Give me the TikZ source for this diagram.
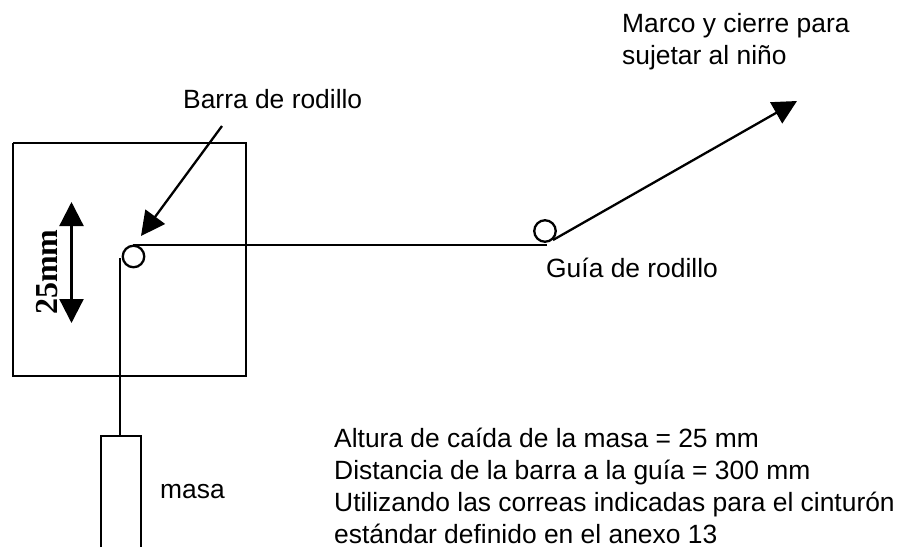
\documentclass[tikz,border=0pt]{standalone}
\usepackage{fontspec}
\setmainfont{Liberation Sans}
\newfontfamily\dimfont{Liberation Serif}
\usetikzlibrary{arrows.meta}
\tikzset{
	rollernode/.style={draw,circle,line width=2.3pt,minimum size=21.5pt,inner sep=0pt},
	strapline/.style={line width=2.3pt},
	bigtip/.tip={Triangle[length=24pt,width=24pt]},
	bigarrow/.style={line width=2.3pt,-bigtip},
	labeltext/.style={inner sep=0pt,font=\fontsize{26.4}{32}\selectfont,align=left}
}
\begin{document}
\begin{tikzpicture}[x=1pt,y=-1pt]
		\useasboundingbox (0,0) rectangle (897,547);

		\draw[strapline] (13,143) -- (246,143) -- (246,376) -- (13,376) -- (13,143);
		\draw[strapline] (101,547) -- (101,436) -- (141,436) -- (141,547);

		\node[rollernode] (barroller) at (133.5,256.5) {};
		\node[rollernode] (guideroller) at (545,231) {};

		\coordinate (bartop) at (133,245);
		\coordinate (barleft) at (120,258);
		\coordinate (guideend) at (547,245);
		\coordinate (guidestart) at (553,240);
		\coordinate (frametip) at (797,101);
		\coordinate (masstop) at (120,436);
		\coordinate (labelend) at (222,126);
		\coordinate (bartip) at (141,236);
		\coordinate (dimtop) at (71.5,202);
		\coordinate (dimbottom) at (71.5,323);

		\draw[strapline] (bartop) -- (guideend);
		\draw[strapline] (barleft) -- (masstop);
		\draw[bigarrow] (guidestart) -- (frametip);
		\draw[bigarrow] (labelend) -- (bartip);
		\draw[line width=2.3pt,bigtip-bigtip] (dimtop) -- (dimbottom);

		\node[rotate=90,inner sep=0pt,font=\dimfont\bfseries\fontsize{32}{36}\selectfont] (dimlabel) at (47,272) {25mm};
		\node[labeltext,anchor=base west] (barlabel) at (183,108) {Barra de rodillo};
		\node[labeltext,anchor=base west] (guidelabel) at (546,277) {Guía de rodillo};
		\node[labeltext,anchor=base west] (masslabel) at (160,498) {masa};
		\node[labeltext,anchor=north west] (framelabel) at (622,13) {Marco y cierre para\\sujetar al niño};
		\node[labeltext,anchor=north west] (notelabel) at (334,427.5) {Altura de caída de la masa = 25 mm\\Distancia de la barra a la guía = 300 mm\\Utilizando las correas indicadas para el cinturón\\estándar definido en el anexo 13};
	\end{tikzpicture}
\end{document}
